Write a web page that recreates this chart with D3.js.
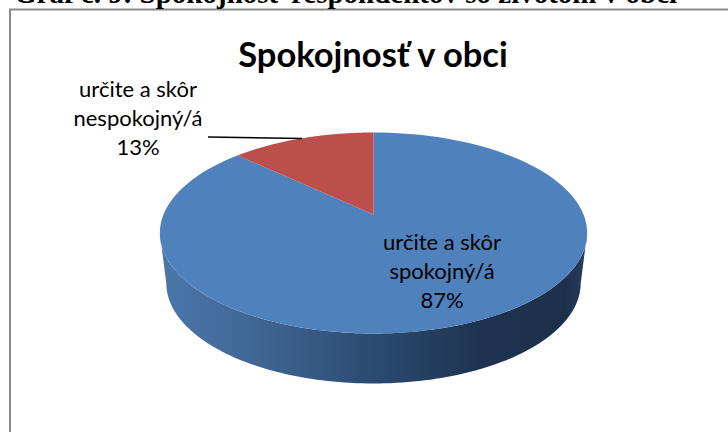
<!DOCTYPE html>
<html>
<head>
<meta charset="utf-8">
<script src="https://cdn.jsdelivr.net/npm/d3@7"></script>
<style>
  html, body { margin: 0; padding: 0; background: #fff; }
  svg { display: block; }
</style>
</head>
<body>
<svg width="728" height="432"></svg>
<script>
// values
var categories = ["určite a skôr spokojný/á", "určite a skôr nespokojný/á"];
var values = [87, 13];
var percentLabels = ["87%", "13%"];
var labelLines = [["určite a skôr", "spokojný/á"], ["určite a skôr", "nespokojný/á"]];
var pageHeading = "Graf č. 9: Spokojnosť respondentov so životom v obci";
var chartTitle = "Spokojnosť v obci";
var colors = ["#4f81bd", "#bb4f4b"];

var svg = d3.select("svg");

// frame, only top and left are in the crop
svg.append("path")
  .attr("d", "M10,432V9.5H728")
  .attr("fill", "none")
  .attr("stroke", "#8a8a8a")
  .attr("stroke-width", 2);

svg.append("text")
  .attr("x", 14)
  .attr("y", 3)
  .attr("font-family", "Liberation Serif")
  .attr("font-weight", "bold")
  .attr("font-size", "29px")
  .attr("fill", "#000")
  .text(pageHeading);

svg.append("text")
  .attr("x", 373)
  .attr("y", 67)
  .attr("text-anchor", "middle")
  .attr("font-family", "Lato")
  .attr("font-weight", "bold")
  .attr("font-size", "34.5px")
  .attr("fill", "#000")
  .text(chartTitle);

// tilted disc: circle angle -> screen point with a little perspective
var cx = 373.5, cy = 214.5, rX = 210, rY = 97.1, persp = 0.184, depth = 50;

function project(angle, dy, shrinkX) {
  var u = Math.sin(angle), v = -Math.cos(angle);
  var w = 1 - persp * v;
  return [cx + rX * shrinkX * u / w, cy + dy + rY * v / w];
}

var pie = d3.pie().sort(null);
var arcs = pie(values);
var line = d3.line();

function arcPoints(a0, a1, dy, shrinkX) {
  var n = 120;
  return d3.range(n + 1).map(function(i) {
    return project(a0 + (a1 - a0) * i / n, dy, shrinkX);
  });
}

var defs = svg.append("defs");
var grad = defs.append("linearGradient")
  .attr("id", "wall")
  .attr("gradientUnits", "userSpaceOnUse")
  .attr("x1", 160).attr("x2", 587)
  .attr("y1", 0).attr("y2", 0);
[[0, "#4a76aa"], [0.2, "#416997"], [0.45, "#2f4f78"], [0.75, "#1e3350"], [0.95, "#1d304b"], [1, "#25405f"]]
  .forEach(function(s) {
    grad.append("stop").attr("offset", s[0]).attr("stop-color", s[1]);
  });

// wall below the disc, between the widest points of the ellipse round the front
var sideStart = Math.acos(-persp), sideEnd = 2 * Math.PI - sideStart;
var wallPts = arcPoints(sideStart, sideEnd, 0, 1)
  .concat(arcPoints(sideEnd, sideStart, depth, 0.97));
svg.append("path")
  .attr("d", line(wallPts) + "Z")
  .attr("fill", "url(#wall)");

// top face, one wedge per value
svg.selectAll("path.slice")
  .data(arcs)
  .enter().append("path")
  .attr("class", "slice")
  .attr("d", function(d) {
    return line([[cx, cy]].concat(arcPoints(d.startAngle, d.endAngle, 0, 1))) + "Z";
  })
  .attr("fill", function(d, i) { return colors[i]; });

// leader line of the small slice
svg.append("line")
  .attr("x1", 208).attr("y1", 137)
  .attr("x2", 302).attr("y2", 138.5)
  .attr("stroke", "#000")
  .attr("stroke-width", 1.6);

// data labels
var labelPos = [{x: 442, y: 250}, {x: 138, y: 97}];
labelPos.forEach(function(p, i) {
  var rows = labelLines[i].concat([percentLabels[i]]);
  svg.append("text")
    .attr("font-family", "Lato")
    .attr("font-size", "22px")
    .attr("fill", "#000")
    .attr("text-anchor", "middle")
    .selectAll("tspan")
    .data(rows)
    .enter().append("tspan")
    .attr("x", p.x)
    .attr("y", function(d, j) { return p.y + j * 29; })
    .text(function(d) { return d; });
});
</script>
</body>
</html>
